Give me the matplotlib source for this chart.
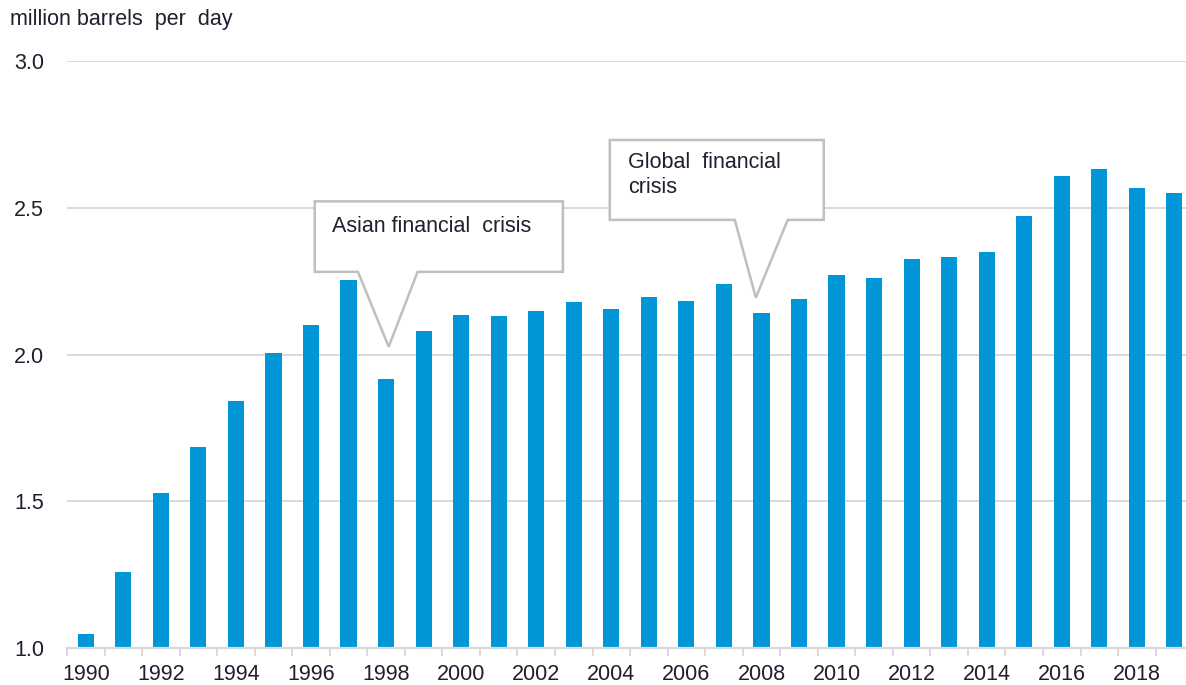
import matplotlib
matplotlib.use("Agg")
import matplotlib.pyplot as plt
from matplotlib.patches import Polygon
from matplotlib.ticker import MultipleLocator, FixedLocator

plt.rcParams["font.family"] = ["Liberation Sans", "DejaVu Sans"]

years = list(range(1990, 2020))
values = [
    1.049, 1.261, 1.529, 1.686, 1.843, 2.007, 2.100, 2.254, 1.917, 2.082,
    2.136, 2.130, 2.147, 2.178, 2.154, 2.195, 2.183, 2.242, 2.141, 2.189,
    2.272, 2.260, 2.325, 2.331, 2.348, 2.472, 2.608, 2.631, 2.566, 2.550,
]
unit_label = "million barrels  per  day"
asian_label = "Asian financial  crisis"
global_label = "Global  financial\ncrisis"

BAR = "#0096d7"
GRID = "#d9d9d9"
BOX = "#bfbfbf"
TEXT = "#1f1f2e"

fig = plt.figure(figsize=(11.86, 6.85), dpi=100)
ax = fig.add_axes([67 / 1186, 1 - 648.3 / 685, 1 - 67 / 1186, (648.3 - 61) / 685])

ax.bar(years, values, width=0.43, color=BAR, zorder=2)

ax.set_xlim(1989.5, 2019.31)
ax.set_ylim(1.0, 3.0)
ax.yaxis.set_major_locator(MultipleLocator(0.5))
ax.yaxis.set_major_formatter(plt.FuncFormatter(lambda v, _: f"{v:.1f}"))
ax.grid(axis="y", color=GRID, lw=1.4, zorder=0)
ax.set_axisbelow(True)

ax.xaxis.set_major_locator(FixedLocator(years[::2]))
ax.xaxis.set_minor_locator(FixedLocator([y - 0.5 for y in years] + [years[-1] + 0.5]))
ax.tick_params(axis="x", which="major", length=0, pad=11, labelsize=15.5, labelcolor=TEXT)
ax.tick_params(axis="x", which="minor", length=6, width=1.4, color=GRID)
ax.tick_params(axis="y", length=0, pad=16.5, labelsize=15.5, labelcolor=TEXT)

for side in ["top", "right", "left"]:
    ax.spines[side].set_visible(False)
ax.spines["bottom"].set_color(GRID)
ax.spines["bottom"].set_linewidth(1.6)

fig.text(10 / 1186, 1 - 20 / 685, unit_label, fontsize=15.5, color=TEXT, va="center", ha="left")


def callout(x0, x1, y0, y1, b0, b1, tip):
    pts = [(x0, y1), (x1, y1), (x1, y0), (b1, y0), tip, (b0, y0), (x0, y0)]
    ax.add_patch(Polygon(pts, closed=True, facecolor="white", edgecolor=BOX,
                         lw=1.8, zorder=3, clip_on=False))


callout(1996.10, 2002.71, 2.282, 2.522, 1997.25, 1998.84, (1998.07, 2.027))
ax.text(1996.55, 2.435, asian_label, fontsize=15.5, color=TEXT, va="center", ha="left", zorder=4)

callout(2003.96, 2009.66, 2.459, 2.731, 2007.29, 2008.70, (2007.85, 2.194))
ax.text(2004.44, 2.612, global_label, fontsize=15.5, color=TEXT, va="center", ha="left",
        linespacing=1.3, zorder=4)

fig.savefig("out.png", dpi=100)
